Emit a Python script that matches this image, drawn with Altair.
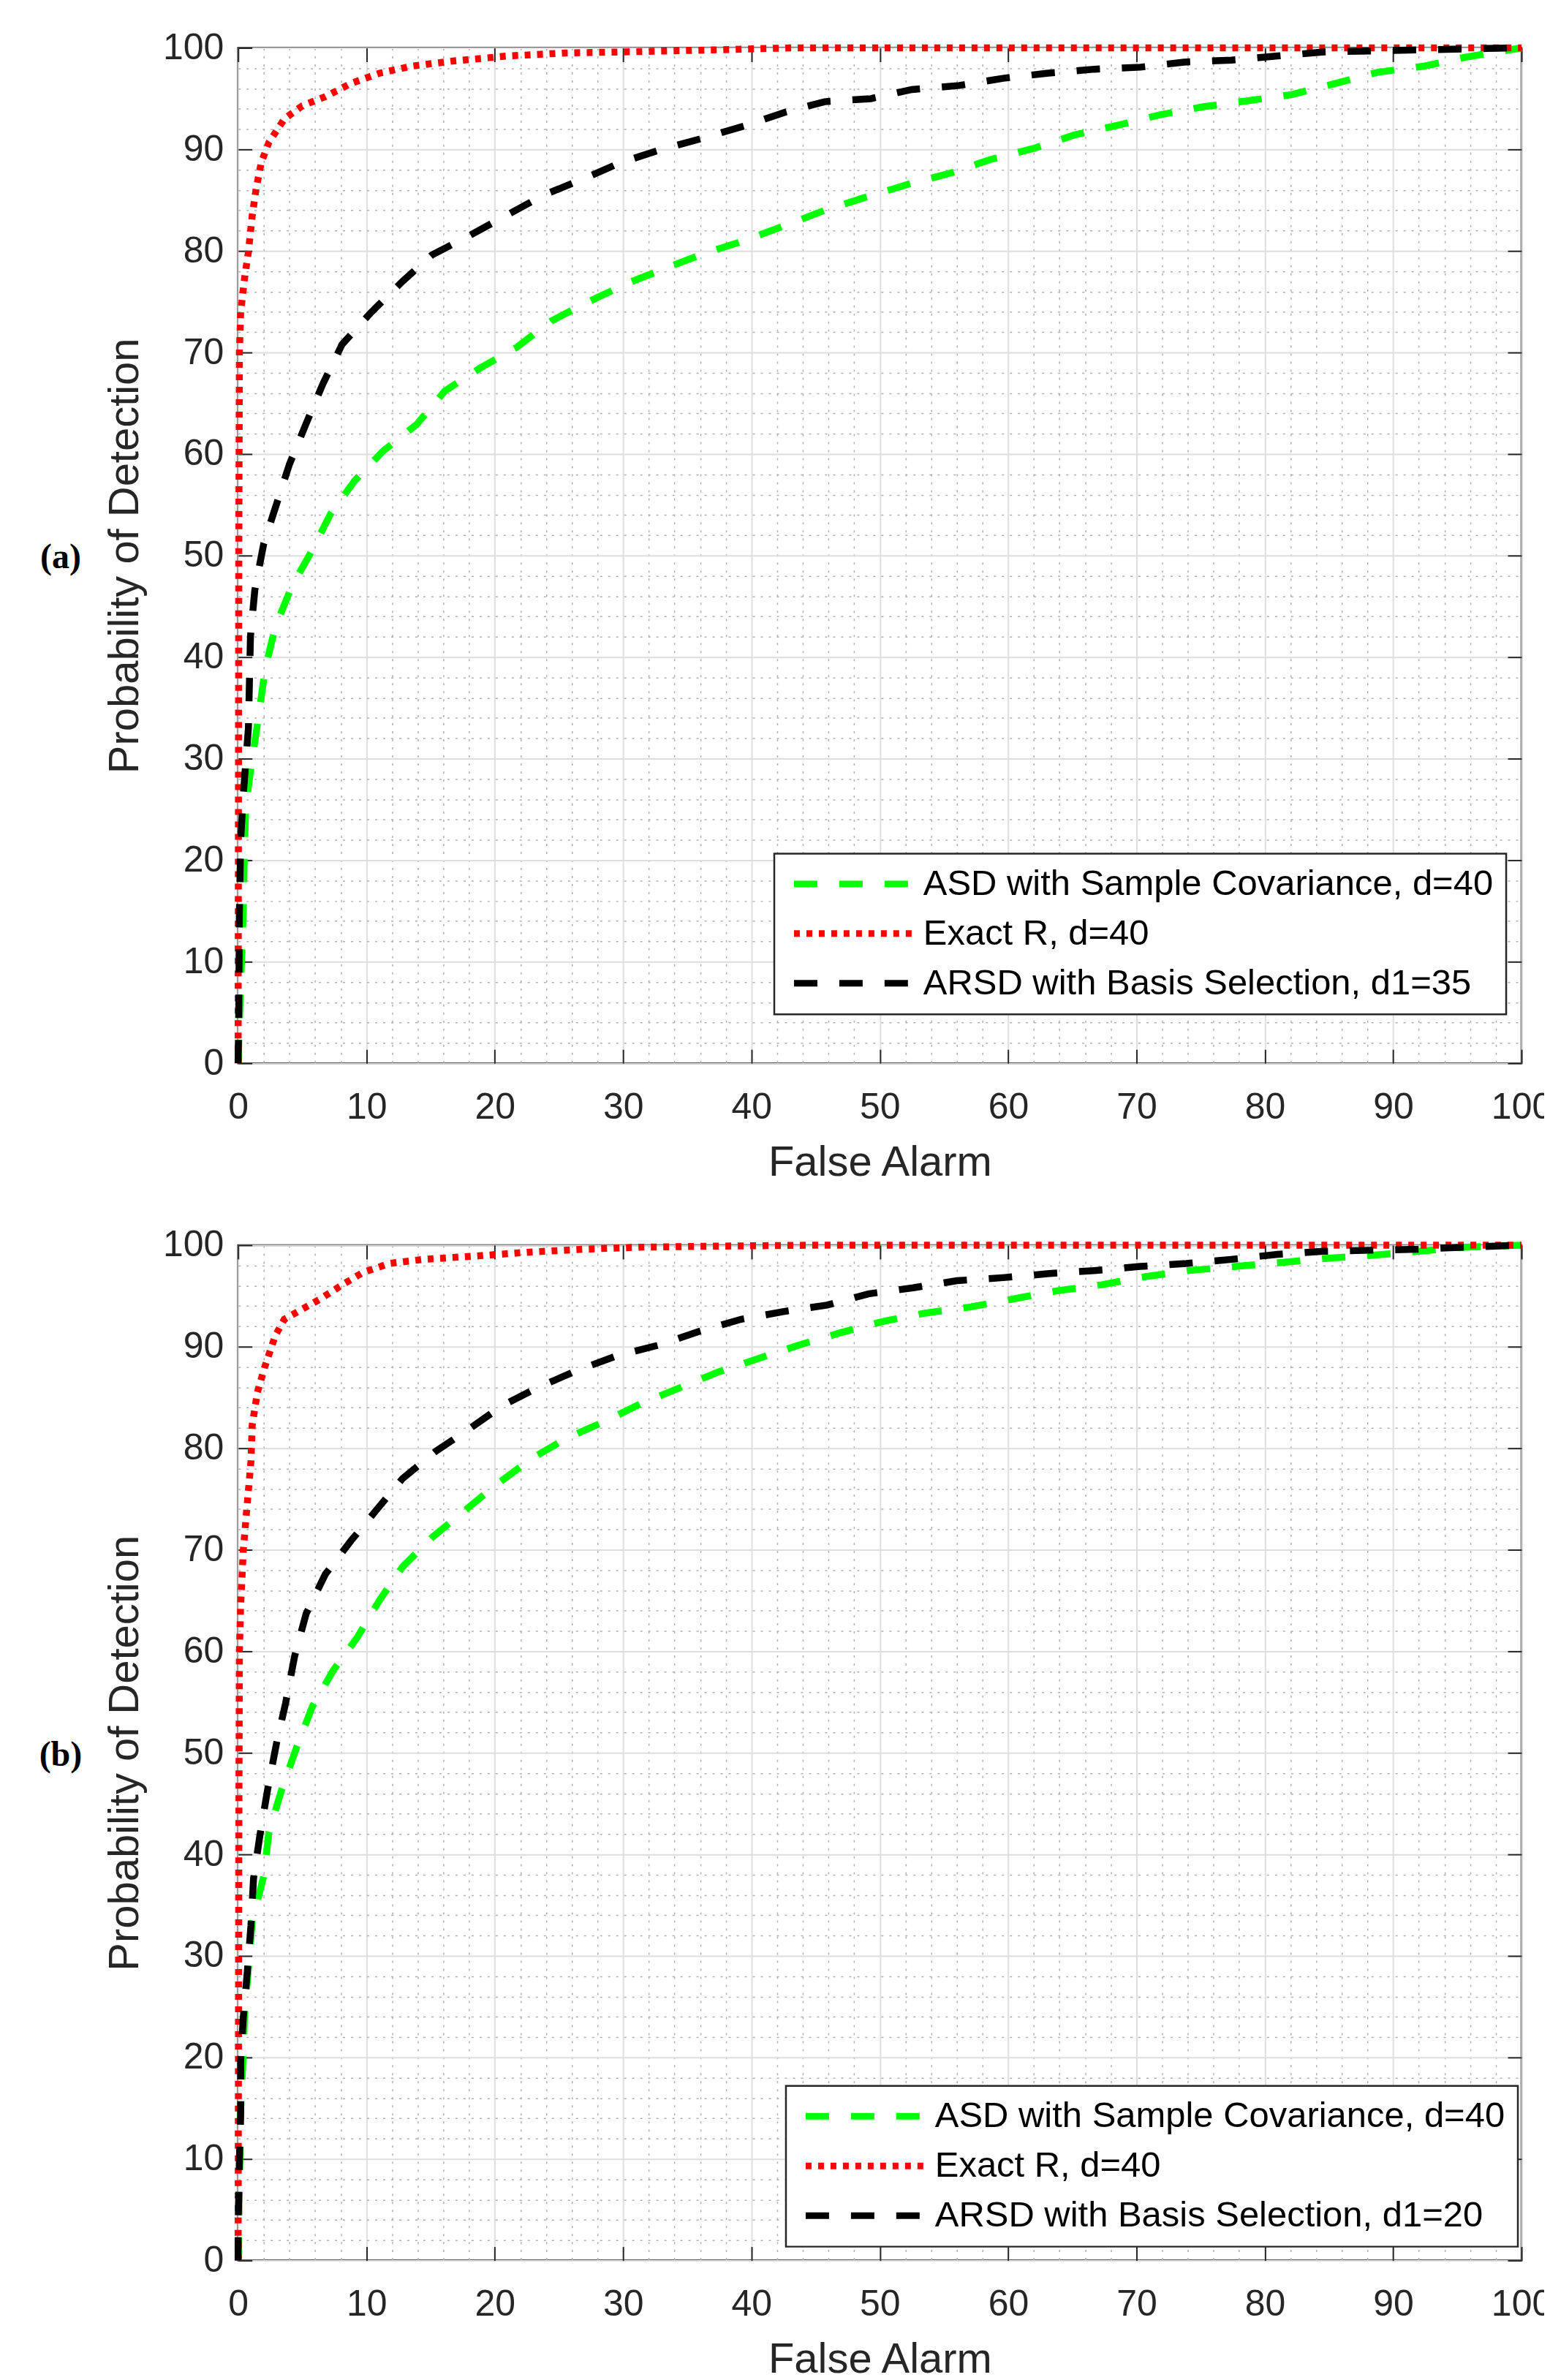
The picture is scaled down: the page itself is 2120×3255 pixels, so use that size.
import altair as alt
import pandas as pd

# ---------------- data ----------------
names_a = ["ASD with Sample Covariance, d=40", "Exact R, d=40", "ARSD with Basis Selection, d1=35"]
names_b = ["ASD with Sample Covariance, d=40", "Exact R, d=40", "ARSD with Basis Selection, d1=20"]

# panel (a)
a_asd_x = [0, 0.2, 0.4, 0.5, 0.6, 1.1, 1.6, 2.1, 2.9, 4.2, 5.8, 7.2, 9.1, 11.3, 13.9, 16.1, 18.9, 21.7, 24.4, 27.3,
           30.3, 33.3, 36.2, 39.4, 42.6, 45.7, 48.9, 52.3, 55.6, 58.6, 62, 65.1, 68.6, 71.8, 75.2, 78.7, 82.1, 85.5,
           88.8, 92.4, 95.7, 100]
a_asd_y = [0, 8, 15, 21.5, 25.4, 30, 34.2, 38.8, 43, 47, 50.6, 54.1, 57.4, 60.3, 62.9, 66.2, 68.5, 70.5, 73.1, 75,
           76.8, 78.3, 79.7, 81, 82.5, 84, 85.3, 86.6, 87.7, 89, 90.1, 91.4, 92.4, 93.4, 94.2, 94.8, 95.4, 96.5,
           97.6, 98.2, 99.1, 100]
a_exact_x = [0, 0.05, 0.1, 0.2, 0.5, 0.8, 1.1, 1.4, 1.8, 2.4, 3.6, 5, 6.8, 8.8, 11, 13.5, 16.7, 21, 25.5, 30,
             37, 43, 60, 80, 100]
a_exact_y = [0, 50, 70, 74, 77.3, 79.9, 83.5, 86.1, 88.7, 90.7, 93, 94.3, 95.2, 96.5, 97.5, 98.2, 98.7, 99.2, 99.5,
             99.6, 99.8, 100, 100, 100, 100]
a_arsd_x = [0, 0.05, 0.1, 0.2, 0.4, 0.8, 0.96, 1.3, 2.0, 3.0, 4.0, 5.3, 6.6, 8.1, 10.4, 12.8, 15.1, 18, 20.9, 23.8,
            26.9, 29.8, 33, 36.2, 39.4, 42.7, 45.7, 49.3, 52.5, 56.2, 59.6, 63, 66.7, 70.3, 73.7, 77.4, 81, 84.6,
            88.3, 91.9, 95.5, 100]
a_arsd_y = [0, 5, 15, 22, 26.4, 33, 42, 46.6, 51.2, 55.1, 59, 63, 66.9, 70.8, 74, 77, 79.6, 81.5, 83.5, 85.5,
            87.1, 88.7, 90, 91.1, 92.3, 93.7, 94.7, 95.0, 95.9, 96.3, 97.0, 97.5, 97.9, 98.1, 98.6, 98.8, 99.2, 99.6,
            99.7, 99.8, 99.9, 100]

# panel (b)
b_asd_x = [0, 0.2, 0.4, 0.5, 0.8, 1.1, 2.0, 2.4, 3.4, 4.6, 5.8, 7.4, 9.3, 11, 12.8, 15.1, 17.6, 20.1, 22.9, 25.6,
           28.5, 31.4, 34.5, 37.4, 40.7, 43.8, 47, 50.3, 53.5, 57, 60.4, 63.8, 67.3, 70.7, 74.1, 77.7, 81.4, 84.8,
           88.4, 92, 95.5, 100]
b_asd_y = [0, 15, 20.3, 24.2, 28.8, 33.4, 37.9, 42.2, 46.4, 50.7, 54.6, 58.1, 61.4, 65, 68.3, 71.2, 73.8, 76.4, 79,
           81, 82.6, 84.4, 86, 87.5, 88.9, 90.2, 91.4, 92.5, 93.3, 93.9, 94.7, 95.5, 96.1, 96.9, 97.5, 97.9, 98.3,
           98.7, 99, 99.4, 99.8, 100]
b_exact_x = [0, 0.05, 0.1, 0.2, 0.4, 0.7, 1.0, 1.1, 1.5, 2.1, 2.9, 3.6, 5.0, 6.4, 8.0, 9.7, 11.8, 14.4, 18.2, 22.5,
             26.9, 31.3, 37.1, 45, 60, 80, 100]
b_exact_y = [0, 40, 60, 64.7, 69.9, 74.4, 78.7, 82.3, 85.5, 88.1, 91.1, 92.7, 93.7, 94.7, 96, 97.3, 98.2, 98.6, 98.9,
             99.3, 99.6, 99.8, 99.9, 100, 100, 100, 100]
b_arsd_x = [0, 0, 0.1, 0.2, 0.2, 0.4, 0.7, 1.0, 1.2, 1.7, 2.3, 3.0, 3.7, 4.4, 5.3, 6.8, 8.8, 10.7, 12.8, 15.4,
            18, 20.6, 23.4, 26.3, 29.5, 32.9, 35.9, 39.2, 42.7, 45.9, 49.1, 52.6, 56, 59.6, 63.2, 66.7, 70.3, 73.9,
            77.4, 81, 84.6, 88.2, 91.9, 95.5, 100]
b_arsd_y = [0, 3.4, 9.9, 14.5, 19.7, 23.9, 28.2, 33, 37.6, 41.9, 46.4, 51, 54.9, 59.5, 63.7, 67.6, 70.9, 73.8, 77,
            79.7, 81.9, 84.2, 86, 87.6, 89.1, 90.2, 91.5, 92.7, 93.5, 94.1, 95.2, 95.8, 96.5, 96.8, 97.2, 97.5, 97.9,
            98.2, 98.6, 99.1, 99.4, 99.5, 99.6, 99.8, 100]

major_ticks = [0, 10, 20, 30, 40, 50, 60, 70, 80, 90, 100]
minor_ticks = [2, 4, 6, 8, 12, 14, 16, 18, 22, 24, 26, 28, 32, 34, 36, 38, 42, 44, 46, 48, 52, 54, 56, 58,
               62, 64, 66, 68, 72, 74, 76, 78, 82, 84, 86, 88, 92, 94, 96, 98]

# ---------------- style ----------------
COLORS = ["#00ff00", "#ff0000", "#000000"]
DASHES = [[32, 30], [8, 9], [32, 30]]
W, H = 1757, 1390
FONT = "Liberation Sans"
AXC = "#262626"
# legend symbol: a flat custom path, 164 px long at symbolSize 1600 (sqrt=40, scale 20)
LEG_SYMBOL = "M-4.1,0H4.1"


def make_df(names, xs_list, ys_list):
    rows = []
    for name, xs, ys in zip(names, xs_list, ys_list):
        for i, (x, y) in enumerate(zip(xs, ys)):
            rows.append({"series": name, "fa": x, "pd": y, "idx": i})
    return pd.DataFrame(rows)


def panel(df, names, lx, ly, label, label_dy):
    xs = alt.Scale(domain=[0, 100], nice=False, zero=False)
    ys = alt.Scale(domain=[0, 100], nice=False, zero=False)
    base = alt.Chart(df)

    minor_ax = dict(values=minor_ticks, grid=True, gridColor="#b0b0b0", gridDash=[3, 8], gridWidth=1.5,
                    labels=False, ticks=False, domain=False, title=None)
    minor = base.mark_point(opacity=0).encode(
        x=alt.X("fa:Q", scale=xs, axis=alt.Axis(orient="bottom", **minor_ax)),
        y=alt.Y("pd:Q", scale=ys, axis=alt.Axis(orient="left", **minor_ax)),
    )

    main_ax = dict(values=major_ticks, grid=True, gridColor="#dedede", gridWidth=2, ticks=False, tickSize=0,
                   domain=False, labelFont=FONT, labelFontSize=50, labelColor=AXC, labelFlush=False,
                   labelOverlap=False, titleFont=FONT, titleFontSize=58, titleFontWeight="normal",
                   titleColor=AXC, format="d")
    leg = alt.Legend(title=None, orient="none", legendX=lx, legendY=ly, symbolType=LEG_SYMBOL,
                     symbolSize=1600, symbolStrokeWidth=9, labelFont=FONT, labelFontSize=49,
                     labelColor="#000000", labelOffset=70.5, symbolOffset=67.5, fillColor="white",
                     strokeColor=AXC, padding=17, rowPadding=18, labelLimit=0, cornerRadius=0)
    lines = base.mark_line(strokeWidth=9.5).encode(
        x=alt.X("fa:Q", scale=xs, axis=alt.Axis(orient="bottom", title="False Alarm", labelPadding=35,
                                                  titlePadding=22, **main_ax)),
        y=alt.Y("pd:Q", scale=ys, axis=alt.Axis(orient="left", title="Probability of Detection",
                                                  labelPadding=20, titlePadding=22, **main_ax)),
        color=alt.Color("series:N", scale=alt.Scale(domain=names, range=COLORS), legend=leg),
        strokeDash=alt.StrokeDash("series:N", scale=alt.Scale(domain=names, range=DASHES), legend=leg),
        order=alt.Order("idx:Q"),
    )

    tick_ax = dict(values=major_ticks, labels=False, domain=False, grid=False, ticks=True, tickSize=19,
                   tickWidth=2, tickColor=AXC, title=None)
    t1 = base.mark_point(opacity=0).encode(
        x=alt.X("fa:Q", scale=xs, axis=alt.Axis(orient="top", offset=-H, **tick_ax)),
        y=alt.Y("pd:Q", scale=ys, axis=alt.Axis(orient="right", offset=-W, **tick_ax)),
    )
    t2 = base.mark_point(opacity=0).encode(
        x=alt.X("fa:Q", scale=xs, axis=alt.Axis(orient="bottom", offset=-H, **tick_ax)),
        y=alt.Y("pd:Q", scale=ys, axis=alt.Axis(orient="left", offset=-W, **tick_ax)),
    )

    lab = alt.Chart(pd.DataFrame({"t": [label]})).mark_text(
        font="Liberation Serif", fontWeight="bold", fontSize=48, color="black",
        align="center", baseline="middle").encode(
        text="t:N", x=alt.value(-243), y=alt.value(H / 2 + label_dy))

    return alt.layer(minor, lines, t1, t2, lab).resolve_axis(x="independent", y="independent").properties(
        width=W, height=H)


df_a = make_df(names_a, [a_asd_x, a_exact_x, a_arsd_x], [a_asd_y, a_exact_y, a_arsd_y])
df_b = make_df(names_b, [b_asd_x, b_exact_x, b_arsd_x], [b_asd_y, b_exact_y, b_arsd_y])

pa = panel(df_a, names_a, 734, 1103, "(a)", 3)
pb = panel(df_b, names_b, 750, 1151, "(b)", 4)

chart = alt.vconcat(pa, pb, spacing=55).resolve_scale(
    color="independent", strokeDash="independent").configure_view(
    stroke=AXC, strokeWidth=2.5).configure_legend(strokeWidth=2.5).properties(
    padding={"left": 44, "top": 29, "right": -12, "bottom": -14}, background="white")

chart.save("out.html", embed_options={"renderer": "svg", "actions": False})
